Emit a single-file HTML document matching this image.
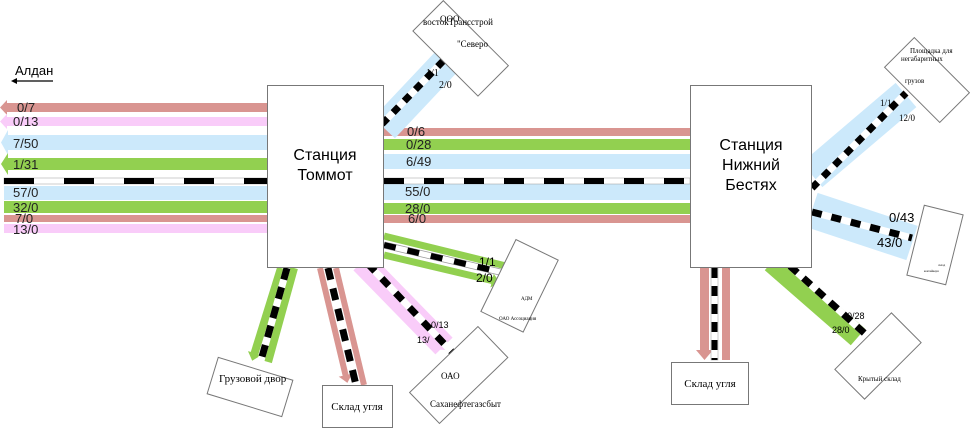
<!DOCTYPE html>
<html><head><meta charset="utf-8"><style>
body{margin:0;background:#fff;}
svg{display:block;font-family:"Liberation Sans",sans-serif;}
.s{font-family:"Liberation Serif",serif;}
</style></head><body>
<svg width="970" height="429" viewBox="0 0 970 429" xmlns="http://www.w3.org/2000/svg">
<defs>
<marker id="mr" markerUnits="userSpaceOnUse" markerWidth="14" markerHeight="14" refX="2" refY="7" orient="auto"><polygon points="0,0 8,7 0,14" fill="#d99591"/></marker>
<marker id="mg" markerUnits="userSpaceOnUse" markerWidth="14" markerHeight="14" refX="2" refY="7" orient="auto"><polygon points="0,0 8,7 0,14" fill="#92d050"/></marker>
<marker id="mp" markerUnits="userSpaceOnUse" markerWidth="14" markerHeight="14" refX="2" refY="7" orient="auto"><polygon points="0,0 8,7 0,14" fill="#f9ccf9"/></marker>
</defs>
<text x="15" y="75" font-size="13">Алдан</text>
<line x1="14" y1="81" x2="53" y2="81" stroke="#000" stroke-width="1.2"/>
<polygon points="11,81 17,78 17,84" fill="#000"/>

<rect x="6" y="103" width="262" height="9" fill="#d99591"/><polygon points="0,107.5 7,100 7,115" fill="#d99591"/>
<rect x="6" y="117" width="262" height="9" fill="#f9ccf9"/><polygon points="0,121.5 7,114 7,129" fill="#f9ccf9"/>
<rect x="6" y="135" width="262" height="15" fill="#cce9fb"/><polygon points="1,142.5 8,130 8,155" fill="#cce9fb"/>
<rect x="6" y="158" width="262" height="12" fill="#92d050"/><polygon points="1,164 8,153 8,175" fill="#92d050"/>
<rect x="4" y="186" width="264" height="14" fill="#cce9fb"/>
<rect x="4" y="201" width="264" height="12" fill="#92d050"/>
<rect x="4" y="215" width="264" height="7" fill="#d99591"/>
<rect x="4" y="224" width="264" height="9" fill="#f9ccf9"/>
<rect x="4" y="178" width="264" height="6" fill="#fff" stroke="#999" stroke-width="0.5"/>
<line x1="4" y1="181" x2="268" y2="181" stroke="#000" stroke-width="6" stroke-dasharray="30 30"/>
<g font-size="13" fill="#222">
<text x="17" y="112">0/7</text><text x="13" y="126">0/13</text><text x="13" y="148">7/50</text><text x="13" y="169">1/31</text>
<text x="13" y="197">57/0</text><text x="13" y="212">32/0</text><text x="15" y="223">7/0</text><text x="13" y="234">13/0</text>
</g>

<rect x="384" y="128" width="306" height="8" fill="#d99591"/>
<rect x="384" y="139" width="306" height="11" fill="#92d050"/>
<rect x="384" y="154" width="306" height="15" fill="#cce9fb"/>
<rect x="384" y="184" width="306" height="16" fill="#cce9fb"/>
<rect x="384" y="203" width="306" height="11" fill="#92d050"/>
<rect x="384" y="215" width="306" height="8" fill="#d99591"/>
<rect x="384" y="178" width="306" height="6" fill="#fff" stroke="#999" stroke-width="0.5"/>
<line x1="384" y1="181" x2="690" y2="181" stroke="#000" stroke-width="6" stroke-dasharray="20 20"/>
<g font-size="13" fill="#222">
<text x="407" y="136">0/6</text><text x="406" y="149">0/28</text><text x="406" y="166">6/49</text>
<text x="405" y="196">55/0</text><text x="405" y="213">28/0</text><text x="408" y="223">6/0</text>
</g>

<line x1="384" y1="128" x2="450" y2="58" stroke="#cce9fb" stroke-width="30"/>
<line x1="382" y1="124" x2="446" y2="58" stroke="#fff" stroke-width="7"/>
<line x1="382" y1="124" x2="446" y2="58" stroke="#000" stroke-width="7" stroke-dasharray="8 8"/>
<text x="426" y="76" font-size="10" class="s">1/1</text><text x="439" y="88" font-size="10" class="s">2/0</text>
<line x1="384" y1="236" x2="506" y2="266" stroke="#92d050" stroke-width="7"/>
<line x1="384" y1="255" x2="494" y2="281" stroke="#92d050" stroke-width="7" marker-end="url(#mg)"/>
<line x1="384" y1="245" x2="500" y2="272" stroke="#999" stroke-width="7"/>
<line x1="384" y1="245" x2="500" y2="272" stroke="#fff" stroke-width="5.5"/>
<line x1="384" y1="245" x2="500" y2="272" stroke="#000" stroke-width="6" stroke-dasharray="12 12"/>
<text x="479" y="266" font-size="12">1/1</text><text x="476" y="282" font-size="12">2/0</text>
<line x1="362" y1="262" x2="444" y2="346" stroke="#f9ccf9" stroke-width="24" marker-end="url(#mp)"/>
<line x1="368" y1="264" x2="452" y2="352" stroke="#fff" stroke-width="7"/>
<line x1="368" y1="264" x2="452" y2="352" stroke="#000" stroke-width="7" stroke-dasharray="10 10"/>
<text x="431" y="328" font-size="9">0/13</text><text x="417" y="343" font-size="9">13/</text>
<line x1="320" y1="268" x2="346" y2="377" stroke="#d99591" stroke-width="6" marker-end="url(#mr)"/>
<line x1="336" y1="268" x2="364" y2="385" stroke="#d99591" stroke-width="6"/>
<line x1="328" y1="268" x2="356" y2="385" stroke="#fff" stroke-width="7"/>
<line x1="328" y1="268" x2="356" y2="385" stroke="#000" stroke-width="7" stroke-dasharray="12 9"/>
<line x1="281" y1="268" x2="254" y2="355" stroke="#92d050" stroke-width="8" marker-end="url(#mg)"/>
<line x1="294" y1="268" x2="268" y2="362" stroke="#92d050" stroke-width="8"/>
<line x1="287" y1="268" x2="260" y2="364" stroke="#fff" stroke-width="7"/>
<line x1="287" y1="268" x2="260" y2="364" stroke="#000" stroke-width="7" stroke-dasharray="12 8"/>

<line x1="812" y1="175" x2="906" y2="95" stroke="#cce9fb" stroke-width="32"/>
<line x1="812" y1="188" x2="906" y2="93" stroke="#fff" stroke-width="7"/>
<line x1="812" y1="188" x2="906" y2="93" stroke="#000" stroke-width="7" stroke-dasharray="8 8"/>
<text x="880" y="106" font-size="9" class="s">1/1</text><text x="899" y="121" font-size="9" class="s">12/0</text>
<line x1="812" y1="210" x2="912" y2="243" stroke="#cce9fb" stroke-width="36"/>
<line x1="812" y1="212" x2="912" y2="238" stroke="#fff" stroke-width="7"/>
<line x1="812" y1="212" x2="912" y2="238" stroke="#000" stroke-width="7" stroke-dasharray="10 10"/>
<text x="889" y="222" font-size="13">0/43</text><text x="877" y="247" font-size="13">43/0</text>
<rect x="700" y="268" width="9" height="84" fill="#d99591"/>
<polygon points="696,350 713,350 704.5,360" fill="#d99591"/>
<rect x="722" y="268" width="8" height="92" fill="#d99591"/>
<rect x="711" y="268" width="7" height="92" fill="#fff" stroke="#999" stroke-width="0.5"/>
<line x1="714.5" y1="268" x2="714.5" y2="360" stroke="#000" stroke-width="6" stroke-dasharray="10 8"/>
<line x1="772" y1="262" x2="858" y2="337" stroke="#92d050" stroke-width="22"/>
<line x1="790" y1="266" x2="872" y2="340" stroke="#fff" stroke-width="7"/>
<line x1="790" y1="266" x2="872" y2="340" stroke="#000" stroke-width="7" stroke-dasharray="10 8"/>
<text x="847" y="319" font-size="9">0/28</text><text x="832" y="333" font-size="9">28/0</text>

<rect x="267.5" y="85.5" width="116" height="182" fill="#fff" stroke="#777"/>
<text x="325" y="160" font-size="16" text-anchor="middle">Станция</text>
<text x="325" y="180" font-size="16" text-anchor="middle">Томмот</text>
<rect x="690.5" y="85.5" width="121" height="182" fill="#fff" stroke="#777"/>
<text x="751" y="150" font-size="16" text-anchor="middle">Станция</text>
<text x="751" y="170" font-size="16" text-anchor="middle">Нижний</text>
<text x="751" y="190" font-size="16" text-anchor="middle">Бестях</text>

<g class="s" font-size="9">
<rect x="415" y="27" width="92" height="43" fill="#fff" stroke="#777" transform="rotate(45 461 48)"/>
<text x="423" y="25">востокТрансстрой</text><text x="440" y="22">ООО</text><text x="457" y="47">"Северо</text>
<rect x="496" y="246" width="47" height="80" fill="#fff" stroke="#777" transform="rotate(26 520 286)"/>
<text x="521" y="300" font-size="5">АДМ</text><text x="499" y="320" font-size="5">ОАО Ассоциация</text>
<rect x="411" y="354" width="95" height="43" fill="#fff" stroke="#777" transform="rotate(-44 458 375)"/>
<text x="441" y="379">ОАО</text><text x="430" y="407">Саханефтегазсбыт</text>
<rect x="211" y="368" width="78" height="38" fill="#fff" stroke="#777" transform="rotate(17 250 387)"/>
<text x="219" y="382" font-size="11">Грузовой двор</text>
<rect x="322.5" y="385.5" width="70" height="42" fill="#fff" stroke="#777"/>
<text x="357" y="410" font-size="11" text-anchor="middle">Склад угля</text>
<rect x="888" y="59" width="78" height="42" fill="#fff" stroke="#777" transform="rotate(45 927 80)"/>
<text x="910" y="53" font-size="7">Площадка для</text><text x="901" y="61" font-size="7">негабаритных</text><text x="905" y="83" font-size="7">грузов</text>
<rect x="915" y="209" width="40" height="72" fill="#fff" stroke="#777" transform="rotate(14 935 245)"/>
<text x="938" y="266" font-size="3">склад</text><text x="924" y="272" font-size="3">контейнерн</text>
<rect x="671.5" y="362.5" width="77" height="42" fill="#fff" stroke="#777"/>
<text x="710" y="387" font-size="11" text-anchor="middle">Склад угля</text>
<rect x="838" y="335" width="80" height="42" fill="#fff" stroke="#777" transform="rotate(-45 878 356)"/>
<text x="858" y="381" font-size="7">Крытый склад</text>
</g>
</svg>
</body></html>
